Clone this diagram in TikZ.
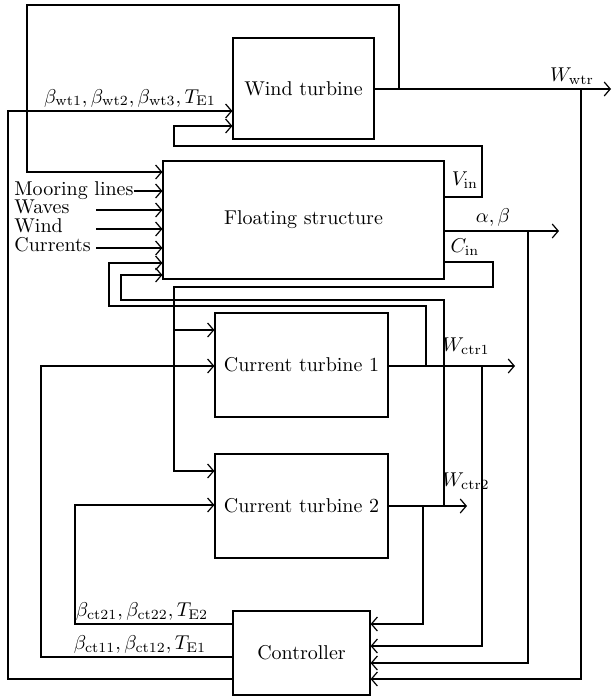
\documentclass[tikz,border=0pt]{standalone}
\usetikzlibrary{arrows.meta,positioning,calc}
\tikzset{block/.style={draw,line width=0.6pt,inner sep=0pt,align=center},
  flow/.style={-{Straight Barb[length=3pt,width=7pt]},line width=0.6pt},
  link/.style={line width=0.6pt},
  sig/.style={inner sep=1pt},
  intext/.style={inner sep=0pt,anchor=base west}}

\begin{document}
\begin{tikzpicture}[x=0.5pt, y=-0.5pt]
\useasboundingbox (0,0) rectangle (613,696);
% blocks
\node[block, minimum width=70.5pt, minimum height=50.5pt] (wt) at (303.5,88.5) {Wind turbine};
\node[block, minimum width=140.5pt, minimum height=59pt] (fs) at (303.5,220) {Floating structure};
\node[block, minimum width=86.5pt, minimum height=52pt] (ct1) at (301.5,365) {Current turbine 1};
\node[block, minimum width=86.5pt, minimum height=52pt] (ct2) at (301.5,506) {Current turbine 2};
\node[block, minimum width=68.5pt, minimum height=42pt] (ctrl) at (301.5,653) {Controller};
% outputs
\coordinate (wtrend) at (611,89);
\coordinate (abend) at (559,231);
\coordinate (ctaend) at (515,366);
\coordinate (ctbend) at (467,506);
\draw[flow] (wt.east |- wtrend) -- (wtrend);
\draw[flow] (fs.east |- abend) -- (abend);
\draw[flow] (ct1.east |- ctaend) -- (ctaend);
\draw[flow] (ct2.east |- ctbend) -- (ctbend);
\node[sig] (wwtr) at (572,76) {$W_{\mathrm{wtr}}$};
\node[sig] (ab) at (493,217) {$\alpha, \beta$};
\node[sig] (wct1) at (466,346) {$W_{\mathrm{ctr1}}$};
\node[sig] (wct2) at (466,481) {$W_{\mathrm{ctr2}}$};
\node[sig] (vin) at (465,180) {$V_{\mathrm{in}}$};
\node[sig] (cin) at (465,247) {$C_{\mathrm{in}}$};
% disturbances
\node[intext] (moor) at (14,195) {Mooring lines};
\node[intext] (waves) at (14,213) {Waves};
\node[intext] (wind) at (14,232) {Wind};
\node[intext] (curr) at (14,251) {Currents};
\draw[flow] (moor.east |- 0,191) -- (fs.west |- 0,191);
\draw[flow] (96,210) -- (fs.west |- 0,210);
\draw[flow] (96,229) -- (fs.west |- 0,229);
\draw[flow] (96,248) -- (fs.west |- 0,248);
% feedback loops
\draw[flow] (399,89) -- (399,5) -- (27,5) -- (27,172) -- (fs.west |- 0,172);
\draw[flow] (fs.east |- 0,197) -- (482,197) -- (482,146) -- (174,146) -- (174,126) -- (wt.west |- 0,126);
\draw[link] (fs.east |- 0,262) -- (493,262) -- (493,287) -- (174,287) -- (174,330);
\draw[flow] (174,330) -- (ct1.west |- 0,330);
\draw[flow] (174,330) -- (174,471) -- (ct2.west |- 0,471);
\draw[flow] (426,366) -- (426,306) -- (109,306) -- (109,263) -- (fs.west |- 0,263);
\draw[flow] (444,506) -- (444,300) -- (121,300) -- (121,275) -- (fs.west |- 0,275);
% measurements to controller
\draw[flow] (423,506) -- (423,624) -- (ctrl.east |- 0,624);
\draw[flow] (482,366) -- (482,646) -- (ctrl.east |- 0,646);
\draw[flow] (528,231) -- (528,663) -- (ctrl.east |- 0,663);
\draw[flow] (581,89) -- (581,679) -- (ctrl.east |- 0,679);
% control signals
\draw[flow] (ctrl.west |- 0,624) -- (75,624) -- (75,505) -- (ct2.west |- 0,505);
\draw[flow] (ctrl.west |- 0,657) -- (41,657) -- (41,366) -- (ct1.west |- 0,366);
\draw[flow] (ctrl.west |- 0,679) -- (8,679) -- (8,111) -- (wt.west |- 0,111);
\node[sig] (bct2) at (142,611) {$\beta_{\mathrm{ct21}}, \beta_{\mathrm{ct22}}, T_{\mathrm{E2}}$};
\node[sig] (bct1) at (140,644) {$\beta_{\mathrm{ct11}}, \beta_{\mathrm{ct12}}, T_{\mathrm{E1}}$};
\node[sig] (bwt) at (130,98) {$\beta_{\mathrm{wt1}}, \beta_{\mathrm{wt2}}, \beta_{\mathrm{wt3}}, T_{\mathrm{E1}}$};
\end{tikzpicture}
\end{document}
